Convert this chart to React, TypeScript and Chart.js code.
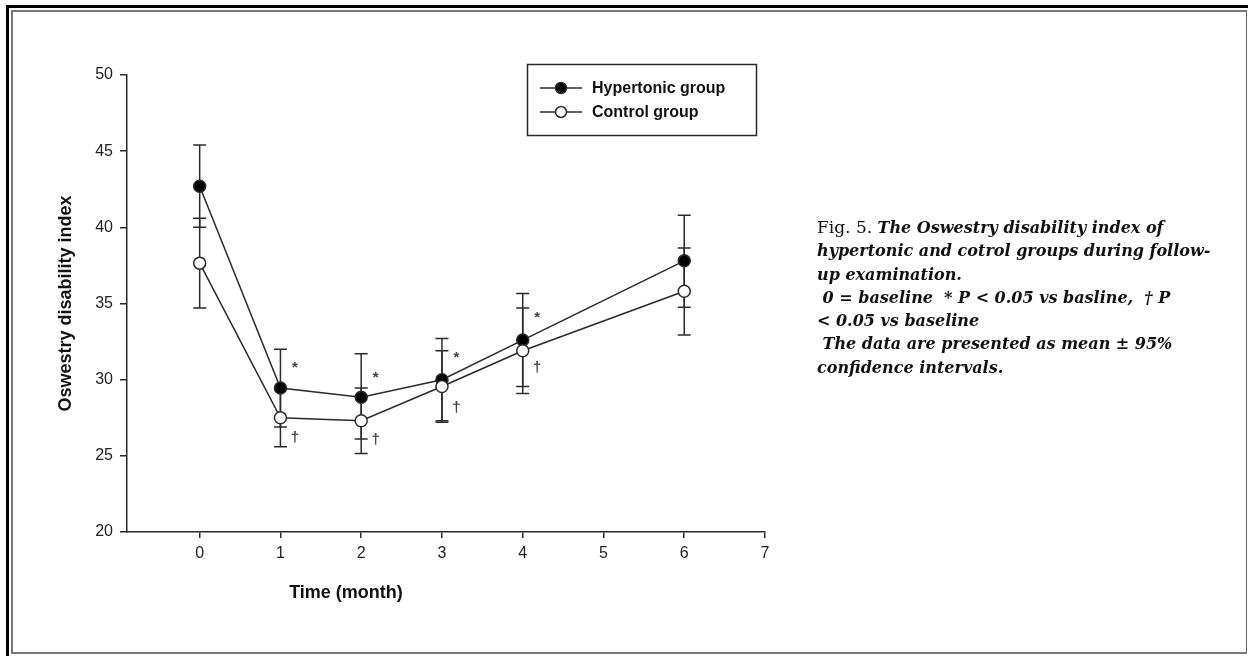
import React, { useEffect, useRef } from "react";
import { Chart, registerables } from "chart.js";
Chart.register(...registerables);

const months = [0, 1, 2, 3, 4, 6];
const hypertonicMean = [42.7, 29.45, 28.85, 30.0, 32.6, 37.8];
const hypertonicLower = [40.0, 26.9, 26.1, 27.3, 29.55, 34.75];
const hypertonicUpper = [45.4, 32.0, 31.7, 32.7, 35.65, 40.8];
const controlMean = [37.65, 27.5, 27.3, 29.55, 31.9, 35.8];
const controlLower = [34.7, 25.6, 25.15, 27.2, 29.1, 32.93];
const controlUpper = [40.6, 29.4, 29.45, 31.9, 34.7, 38.65];
const xTicks = [0, 1, 2, 3, 4, 5, 6, 7];
const starMonths = [1, 2, 3, 4];
const starValues = [31.0, 30.3, 31.6, 34.25];
const daggerValues = [26.2, 26.05, 28.15, 30.8];
const seriesLabels = ["Hypertonic group", "Control group"];
const xTitle = "Time (month)";
const yTitle = "Oswestry disability index";

const INK = "#2a2a2a";

const errorBarPlugin = {
  id: "errorBars",
  beforeDatasetsDraw(chart: any) {
    const { ctx, scales } = chart;
    const x = scales.x;
    const y = scales.y;
    const sets = [
      [hypertonicLower, hypertonicUpper],
      [controlLower, controlUpper],
    ];
    ctx.save();
    ctx.strokeStyle = INK;
    ctx.lineWidth = 1.5;
    sets.forEach(([lo, hi]) => {
      months.forEach((m, i) => {
        const px = x.getPixelForValue(m);
        const y1 = y.getPixelForValue(lo[i]);
        const y2 = y.getPixelForValue(hi[i]);
        ctx.beginPath();
        ctx.moveTo(px, y1);
        ctx.lineTo(px, y2);
        ctx.moveTo(px - 6.5, y1);
        ctx.lineTo(px + 6.5, y1);
        ctx.moveTo(px - 6.5, y2);
        ctx.lineTo(px + 6.5, y2);
        ctx.stroke();
      });
    });
    ctx.restore();
  },
};

const decorPlugin = {
  id: "decor",
  afterDraw(chart: any) {
    const { ctx, scales } = chart;
    const x = scales.x;
    const y = scales.y;
    ctx.save();
    // significance marks
    ctx.fillStyle = "#444";
    ctx.font = "bold 15px 'Liberation Sans', Arial, sans-serif";
    ctx.textAlign = "center";
    ctx.textBaseline = "middle";
    starMonths.forEach((m, i) => {
      const px = x.getPixelForValue(m) + 14.5;
      ctx.fillText("*", px, y.getPixelForValue(starValues[i]) + 3);
      ctx.fillText("\u2020", px, y.getPixelForValue(daggerValues[i]));
    });
    // axis titles
    ctx.fillStyle = "#111";
    ctx.font = "bold 18px 'Liberation Sans', Arial, sans-serif";
    ctx.fillText(xTitle, 346, 593);
    ctx.save();
    ctx.translate(66, (y.top + y.bottom) / 2);
    ctx.rotate(-Math.PI / 2);
    ctx.fillText(yTitle, 0, 0);
    ctx.restore();
    // legend
    ctx.strokeStyle = INK;
    ctx.lineWidth = 1.5;
    ctx.strokeRect(527.5, 64.5, 229, 71);
    const rows = [88, 112];
    const fills = ["#000", "#fff"];
    rows.forEach((ry, i) => {
      ctx.beginPath();
      ctx.moveTo(540, ry);
      ctx.lineTo(582, ry);
      ctx.stroke();
      ctx.beginPath();
      ctx.arc(561, ry, 5.5, 0, Math.PI * 2);
      ctx.fillStyle = fills[i];
      ctx.fill();
      ctx.stroke();
      ctx.fillStyle = "#111";
      ctx.font = "bold 16px 'Liberation Sans', Arial, sans-serif";
      ctx.textAlign = "left";
      ctx.fillText(seriesLabels[i], 592, ry + 1);
    });
    ctx.restore();
  },
};

export default function App() {
  const ref = useRef<HTMLCanvasElement | null>(null);
  useEffect(() => {
    if (!ref.current) return;
    const chart = new Chart(ref.current, {
      type: "line",
      data: {
        datasets: [
          {
            label: seriesLabels[0],
            data: months.map((m, i) => ({ x: m, y: hypertonicMean[i] })),
            borderColor: INK,
            borderWidth: 1.5,
            pointRadius: 6,
            pointBorderWidth: 1.5,
            pointBackgroundColor: "#000",
            pointBorderColor: INK,
            order: 2,
          },
          {
            label: seriesLabels[1],
            data: months.map((m, i) => ({ x: m, y: controlMean[i] })),
            borderColor: INK,
            borderWidth: 1.5,
            pointRadius: 6,
            pointBorderWidth: 1.5,
            pointBackgroundColor: "#fff",
            pointBorderColor: INK,
            order: 1,
          },
        ],
      },
      options: {
        responsive: false,
        animation: false,
        devicePixelRatio: 1,
        layout: { padding: { left: 0, right: 483, top: 75, bottom: 64 } },
        plugins: { legend: { display: false }, tooltip: { enabled: false } },
        scales: {
          x: {
            type: "linear",
            min: -0.9,
            max: 7,
            afterBuildTicks: (s: any) => {
              s.ticks = xTicks.map((v) => ({ value: v }));
            },
            afterFit: (s: any) => {
              s.height = 60;
            },
            grid: { drawOnChartArea: false, drawTicks: true, tickLength: 6, color: INK, lineWidth: 1.5 },
            border: { display: true, color: INK, width: 1.5 },
            ticks: {
              color: "#222",
              padding: 6,
              font: { family: "'Liberation Sans', Arial, sans-serif", size: 16 },
              maxRotation: 0,
              autoSkip: false,
            },
          },
          y: {
            type: "linear",
            min: 20,
            max: 50,
            afterFit: (s: any) => {
              s.width = 127;
            },
            grid: { drawOnChartArea: false, drawTicks: true, tickLength: 7, color: INK, lineWidth: 1.5 },
            border: { display: true, color: INK, width: 1.5 },
            ticks: {
              stepSize: 5,
              color: "#222",
              padding: 7,
              font: { family: "'Liberation Sans', Arial, sans-serif", size: 16 },
            },
          },
        },
      },
      plugins: [errorBarPlugin, decorPlugin],
    } as any);
    return () => chart.destroy();
  }, []);

  const line = (style: React.CSSProperties) => (
    <div style={{ position: "absolute", ...style }} />
  );

  return (
    <div style={{ position: "fixed", left: 0, top: 0, width: 1248, height: 656, background: "#fff", overflow: "hidden" }}>
      <canvas ref={ref} width={1248} height={656} style={{ position: "absolute", left: 0, top: 0 }} />
      {line({ left: 6, top: 5, width: 1242, height: 3, background: "#000" })}
      {line({ left: 6, top: 5, width: 3, height: 651, background: "#000" })}
      {line({ left: 11, top: 10, width: 1236, height: 1.5, background: "#777" })}
      {line({ left: 11, top: 10, width: 1.5, height: 644, background: "#777" })}
      {line({ left: 1245.5, top: 10, width: 1.5, height: 644, background: "#666" })}
      {line({ left: 11, top: 652, width: 1236, height: 2, background: "#777" })}
      <div
        style={{
          position: "absolute",
          left: 817,
          top: 216,
          fontFamily: "'DejaVu Serif', serif",
          fontSize: 16,
          lineHeight: "23.3px",
          color: "#111",
          whiteSpace: "pre",
        }}
      >
        <span style={{ fontSize: 17 }}>Fig. 5. </span>
        <i style={{ fontWeight: "bold" }}>{"The Oswestry disability index of\nhypertonic and cotrol groups during follow-\nup examination.\n 0 = baseline  * P < 0.05 vs basline,  \u2020 P\n< 0.05 vs baseline\n The data are presented as mean \u00b1 95%\nconfidence intervals."}</i>
      </div>
    </div>
  );
}
